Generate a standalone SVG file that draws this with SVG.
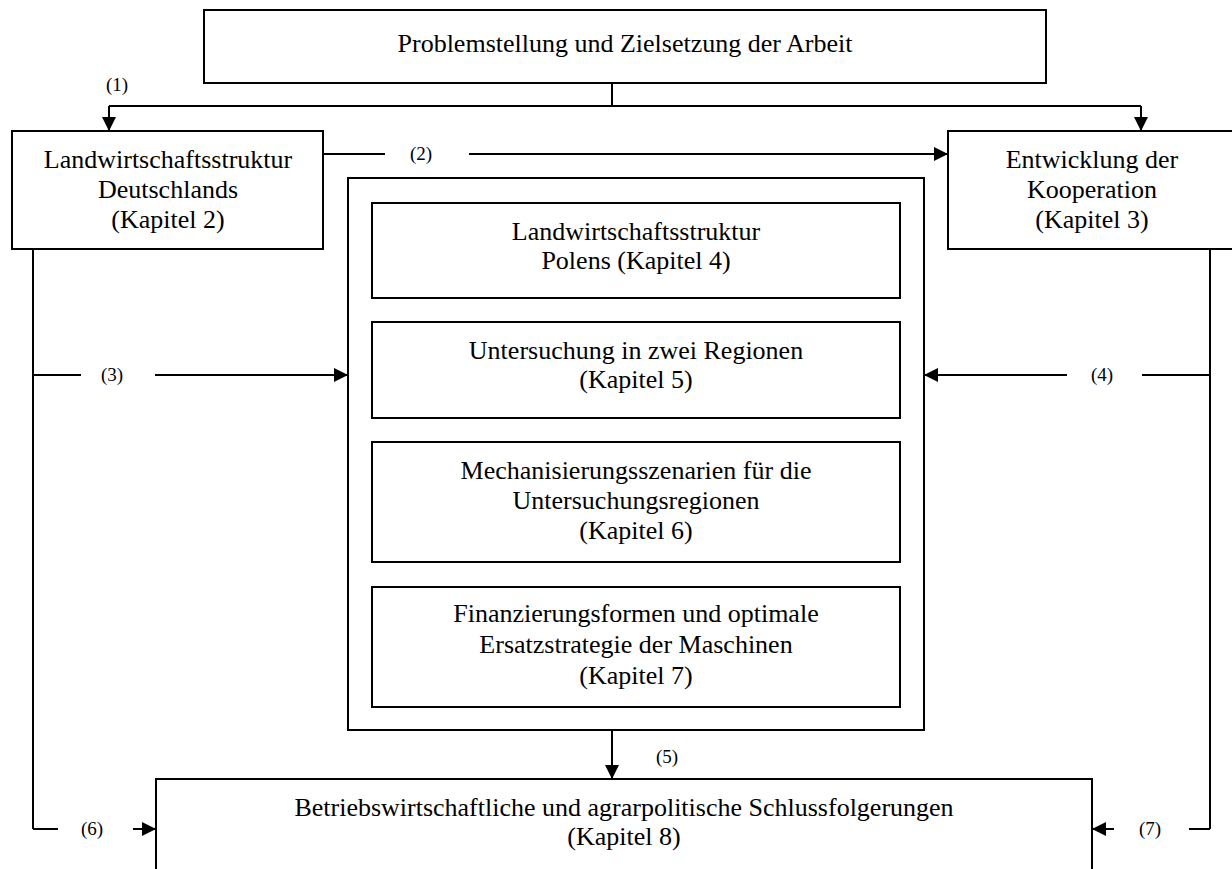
<svg xmlns="http://www.w3.org/2000/svg" width="1232" height="869" viewBox="0 0 1232 869">
<defs>
<marker id="arr" markerUnits="userSpaceOnUse" markerWidth="14" markerHeight="14" viewBox="0 0 14 14" refX="14" refY="7" orient="auto">
<path d="M0,0 L14,7 L0,14 Z" fill="#000"/>
</marker>
</defs>
<style>
.box{fill:#fff;stroke:#000;stroke-width:2}
.t{font-family:"Liberation Serif","Times New Roman",serif;font-size:26px;text-anchor:middle;fill:#000}
.l{font-family:"Liberation Serif","Times New Roman",serif;font-size:19px;text-anchor:middle;fill:#000}
.c{fill:none;stroke:#000;stroke-width:2}
</style>
<rect width="1232" height="869" fill="#fff"/>
<g id="connectors">
<path class="c" d="M612,83 V106"/>
<path class="c" d="M109,106 H1141"/>
<path class="c" d="M109,106 V131" marker-end="url(#arr)"/>
<path class="c" d="M1141,106 V131" marker-end="url(#arr)"/>
<text class="l" x="117" y="91">(1)</text>
<path class="c" d="M323,154 H385"/>
<path class="c" d="M469,154 H948" marker-end="url(#arr)"/>
<text class="l" x="421" y="160">(2)</text>
<path class="c" d="M33,249 V829"/>
<path class="c" d="M33,375 H81"/>
<path class="c" d="M155,375 H348" marker-end="url(#arr)"/>
<text class="l" x="112" y="381">(3)</text>
<path class="c" d="M1210,249 V829"/>
<path class="c" d="M1210,375 H1142"/>
<path class="c" d="M1067,375 H924" marker-end="url(#arr)"/>
<text class="l" x="1102" y="381">(4)</text>
<path class="c" d="M612,730 V779" marker-end="url(#arr)"/>
<text class="l" x="667" y="763">(5)</text>
<path class="c" d="M33,829 H58"/>
<path class="c" d="M133,829 H156" marker-end="url(#arr)"/>
<text class="l" x="92" y="835">(6)</text>
<path class="c" d="M1210,829 H1189"/>
<path class="c" d="M1114,829 H1092" marker-end="url(#arr)"/>
<text class="l" x="1150" y="835">(7)</text>
</g>
<g id="n_top">
<rect class="box" x="204" y="10" width="842" height="73"/>
<text class="t" x="625" y="52">Problemstellung und Zielsetzung der Arbeit</text>
</g>
<g id="n_k2">
<rect class="box" x="12" y="131" width="311" height="118"/>
<text class="t" x="168" y="168">Landwirtschaftsstruktur</text>
<text class="t" x="168" y="198">Deutschlands</text>
<text class="t" x="168" y="228">(Kapitel 2)</text>
</g>
<g id="n_k3">
<rect class="box" x="948" y="131" width="290" height="118"/>
<text class="t" x="1092" y="168">Entwicklung der</text>
<text class="t" x="1092" y="198">Kooperation</text>
<text class="t" x="1092" y="228">(Kapitel 3)</text>
</g>
<g id="n_group">
<rect class="box" x="348" y="178" width="576" height="552"/>
</g>
<g id="n_k4">
<rect class="box" x="372" y="203" width="528" height="95"/>
<text class="t" x="636" y="240">Landwirtschaftsstruktur</text>
<text class="t" x="636" y="269">Polens (Kapitel 4)</text>
</g>
<g id="n_k5">
<rect class="box" x="372" y="322" width="528" height="96"/>
<text class="t" x="636" y="359">Untersuchung in zwei Regionen</text>
<text class="t" x="636" y="388">(Kapitel 5)</text>
</g>
<g id="n_k6">
<rect class="box" x="372" y="442" width="528" height="120"/>
<text class="t" x="636" y="479">Mechanisierungsszenarien für die</text>
<text class="t" x="636" y="509">Untersuchungsregionen</text>
<text class="t" x="636" y="539">(Kapitel 6)</text>
</g>
<g id="n_k7">
<rect class="box" x="372" y="587" width="528" height="120"/>
<text class="t" x="636" y="622">Finanzierungsformen und optimale</text>
<text class="t" x="636" y="653">Ersatzstrategie der Maschinen</text>
<text class="t" x="636" y="684">(Kapitel 7)</text>
</g>
<g id="n_k8">
<rect class="box" x="156" y="779" width="936" height="110"/>
<text class="t" x="624" y="816">Betriebswirtschaftliche und agrarpolitische Schlussfolgerungen</text>
<text class="t" x="624" y="845">(Kapitel 8)</text>
</g>
</svg>
